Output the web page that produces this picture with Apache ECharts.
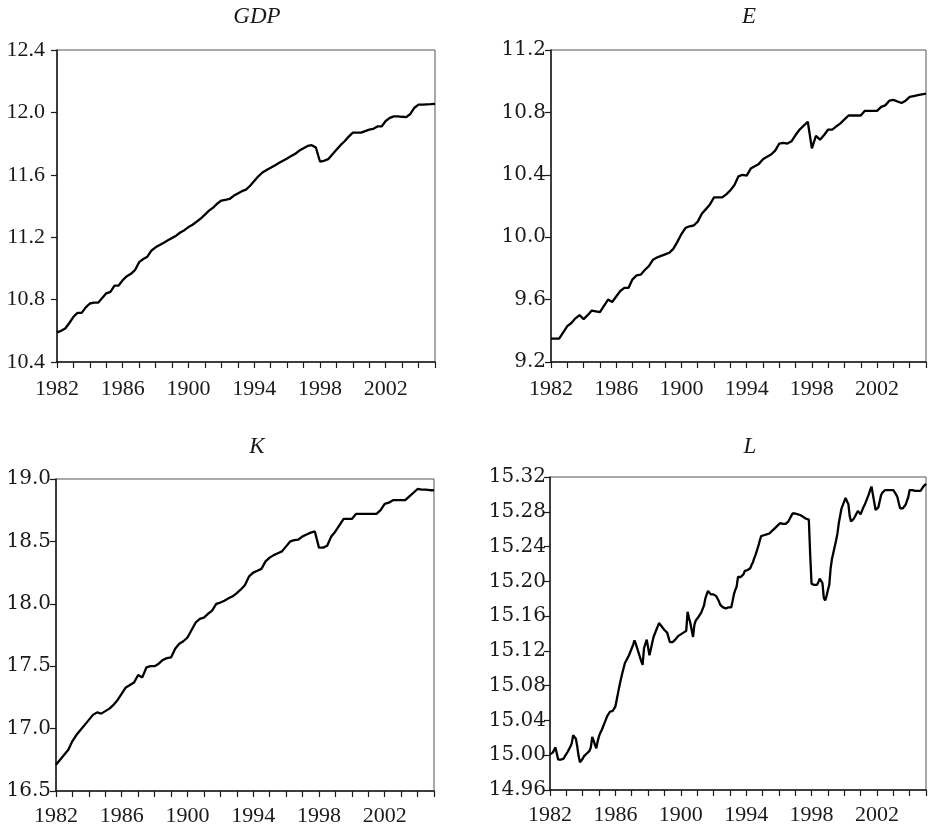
<!DOCTYPE html>
<html>
<head>
<meta charset="utf-8">
<script src="https://cdn.jsdelivr.net/npm/echarts@6/dist/echarts.min.js"></script>
<style>
html,body{margin:0;padding:0;background:#fff;}
#chart{width:929px;height:832px;}
</style>
</head>
<body>
<div id="chart"></div>
<script>
// Panel titles
const panelTitles = ['GDP', 'E', 'K', 'L'];

// x-axis (years) and tick labels as printed in the source
const xStart = 1982;
const xEnd = 2005;
const xLabelYears = [1982, 1986, 1990, 1994, 1998, 2002];
const xLabelTexts = ['1982', '1986', '1900', '1994', '1998', '2002'];

// y-axis ranges
const gdpAxis = [10.4, 12.4, 0.4];
const eAxis = [9.2, 11.2, 0.4];
const kAxis = [16.5, 19.0, 0.5];
const lAxis = [14.96, 15.32, 0.04];

// Quarterly series, 1982Q1 .. 2005Q1
const gdp = [
  10.59, 10.60, 10.615, 10.65, 10.69, 10.715, 10.715, 10.75, 10.775, 10.78, 10.78, 10.81,
  10.84, 10.85, 10.89, 10.89, 10.925, 10.95, 10.965, 10.99, 11.04, 11.06, 11.075, 11.115,
  11.135, 11.15, 11.165, 11.18, 11.195, 11.21, 11.23, 11.245, 11.265, 11.28, 11.30, 11.32,
  11.345, 11.37, 11.39, 11.415, 11.435, 11.44, 11.445, 11.465, 11.48, 11.495, 11.505, 11.53,
  11.56, 11.59, 11.615, 11.63, 11.645, 11.66, 11.675, 11.69, 11.705, 11.72, 11.735, 11.755,
  11.77, 11.785, 11.79, 11.775, 11.685, 11.69, 11.70, 11.73, 11.76, 11.79, 11.815, 11.845,
  11.87, 11.87, 11.87, 11.88, 11.89, 11.895, 11.91, 11.91, 11.945, 11.965, 11.975, 11.975,
  11.972, 11.97, 11.99, 12.03, 12.05, 12.05, 12.052, 12.053, 12.055
];
const e = [
  9.35, 9.35, 9.35, 9.39, 9.43, 9.45, 9.48, 9.50, 9.475, 9.50, 9.53, 9.525,
  9.52, 9.56, 9.60, 9.585, 9.62, 9.655, 9.675, 9.675, 9.73, 9.755, 9.76, 9.79,
  9.815, 9.855, 9.87, 9.88, 9.89, 9.90, 9.925, 9.97, 10.02, 10.06, 10.07, 10.075,
  10.10, 10.15, 10.18, 10.21, 10.255, 10.255, 10.255, 10.275, 10.30, 10.335, 10.39, 10.40,
  10.395, 10.44, 10.455, 10.47, 10.50, 10.515, 10.53, 10.555, 10.60, 10.605, 10.60, 10.615,
  10.655, 10.69, 10.715, 10.74, 10.57, 10.65, 10.625, 10.655, 10.69, 10.69, 10.71, 10.73,
  10.755, 10.78, 10.78, 10.78, 10.78, 10.81, 10.81, 10.81, 10.81, 10.835, 10.845, 10.875,
  10.88, 10.87, 10.86, 10.875, 10.90, 10.905, 10.91, 10.915, 10.92
];
const k = [
  16.71, 16.75, 16.79, 16.83, 16.90, 16.95, 16.99, 17.03, 17.07, 17.11, 17.13, 17.12,
  17.14, 17.16, 17.19, 17.23, 17.28, 17.33, 17.35, 17.37, 17.43, 17.41, 17.49, 17.50,
  17.50, 17.52, 17.55, 17.565, 17.57, 17.64, 17.68, 17.70, 17.73, 17.79, 17.85, 17.88,
  17.89, 17.92, 17.945, 18.00, 18.01, 18.025, 18.045, 18.06, 18.085, 18.115, 18.15, 18.22,
  18.25, 18.265, 18.28, 18.34, 18.37, 18.39, 18.405, 18.42, 18.46, 18.50, 18.51, 18.515,
  18.54, 18.555, 18.57, 18.58, 18.45, 18.45, 18.465, 18.54, 18.58, 18.63, 18.68, 18.68,
  18.68, 18.72, 18.72, 18.72, 18.72, 18.72, 18.72, 18.75, 18.80, 18.81, 18.83, 18.83,
  18.83, 18.83, 18.86, 18.89, 18.92, 18.915, 18.915, 18.91, 18.91
];
// Monthly series, 1982-01 .. 2005-01
const l = [
  15.001, 15.002, 15.003, 15.006, 15.009, 15.002, 14.995, 14.995, 14.995, 14.995, 14.996, 14.999,
  15.001, 15.004, 15.007, 15.010, 15.014, 15.023, 15.021, 15.019, 15.010, 14.999, 14.992, 14.992,
  14.996, 14.999, 15.001, 15.002, 15.003, 15.005, 15.009, 15.021, 15.017, 15.012, 15.008, 15.016,
  15.022, 15.026, 15.029, 15.033, 15.037, 15.041, 15.045, 15.047, 15.050, 15.051, 15.051, 15.052,
  15.056, 15.064, 15.072, 15.080, 15.087, 15.094, 15.100, 15.106, 15.109, 15.112, 15.115, 15.119,
  15.123, 15.127, 15.132, 15.128, 15.123, 15.118, 15.113, 15.108, 15.104, 15.123, 15.124, 15.133,
  15.124, 15.115, 15.122, 15.129, 15.136, 15.140, 15.144, 15.148, 15.152, 15.150, 15.148, 15.146,
  15.144, 15.143, 15.141, 15.140, 15.130, 15.129, 15.130, 15.131, 15.133, 15.135, 15.137, 15.138,
  15.139, 15.140, 15.141, 15.142, 15.143, 15.165, 15.158, 15.152, 15.152, 15.136, 15.150, 15.155,
  15.157, 15.159, 15.161, 15.164, 15.166, 15.172, 15.180, 15.185, 15.189, 15.191, 15.185, 15.183,
  15.185, 15.186, 15.183, 15.180, 15.177, 15.173, 15.171, 15.170, 15.169, 15.169, 15.169, 15.170,
  15.170, 15.170, 15.177, 15.185, 15.190, 15.194, 15.205, 15.205, 15.205, 15.205, 15.208, 15.212,
  15.213, 15.213, 15.214, 15.215, 15.219, 15.222, 15.227, 15.231, 15.236, 15.241, 15.247, 15.252,
  15.253, 15.253, 15.253, 15.254, 15.255, 15.255, 15.256, 15.258, 15.259, 15.261, 15.262, 15.264,
  15.266, 15.267, 15.267, 15.266, 15.266, 15.266, 15.266, 15.269, 15.272, 15.275, 15.278, 15.278,
  15.278, 15.277, 15.277, 15.276, 15.276, 15.275, 15.274, 15.273, 15.272, 15.272, 15.271, 15.230,
  15.197, 15.196, 15.196, 15.196, 15.196, 15.199, 15.203, 15.205, 15.198, 15.181, 15.178, 15.183,
  15.190, 15.196, 15.215, 15.226, 15.233, 15.240, 15.247, 15.255, 15.267, 15.269, 15.284, 15.288,
  15.292, 15.296, 15.292, 15.289, 15.275, 15.269, 15.270, 15.272, 15.274, 15.278, 15.281, 15.279,
  15.277, 15.281, 15.285, 15.288, 15.292, 15.296, 15.300, 15.305, 15.309, 15.300, 15.291, 15.282,
  15.284, 15.285, 15.287, 15.299, 15.302, 15.304, 15.305, 15.305, 15.305, 15.305, 15.305, 15.305,
  15.305, 15.303, 15.300, 15.297, 15.290, 15.284, 15.282, 15.284, 15.286, 15.288, 15.290, 15.297,
  15.305, 15.305, 15.305, 15.305, 15.304, 15.304, 15.304, 15.304, 15.304, 15.306, 15.309, 15.311,
  15.312
];

const chart = echarts.init(document.getElementById('chart'), null, {renderer: 'canvas'});

const serif = 'Liberation Serif';
const wideSerif = 'DejaVu Serif';
const ink = '#1a1a1a';

const grids = [
  {left: 57, top: 50, width: 378, height: 312},
  {left: 551, top: 50, width: 377, height: 312},
  {left: 56, top: 479, width: 378, height: 312},
  {left: 550, top: 477, width: 377, height: 313}
].map(g => Object.assign({show: true, borderColor: '#555', borderWidth: 1, backgroundColor: 'transparent'}, g));

const titlePos = [[257, 17], [749, 17], [257, 447], [750, 447]];
const xLabelMargins = [16, 16, 14, 14];

function xAxisFor(gi) {
  return {
    type: 'value', gridIndex: gi, min: xStart, max: xEnd, interval: 1,
    axisLine: {show: true, lineStyle: {color: ink, width: 1.5}},
    axisTick: {show: true, inside: false, length: 6, lineStyle: {color: ink, width: 1.2}},
    axisLabel: {
      margin: xLabelMargins[gi], fontFamily: serif, fontSize: 22, color: ink,
      formatter: function (v) {
        const idx = xLabelYears.indexOf(Math.round(v));
        return (idx >= 0 && Math.abs(v - Math.round(v)) < 1e-6) ? xLabelTexts[idx] : '';
      }
    },
    splitLine: {show: false}
  };
}
function yAxisFor(gi, rng, dec, font, size, margin) {
  return {
    type: 'value', gridIndex: gi, min: rng[0], max: rng[1], interval: rng[2],
    axisLine: {show: true, lineStyle: {color: ink, width: 1.5}},
    axisTick: {show: true, inside: false, length: 6, lineStyle: {color: ink, width: 1.2}},
    axisLabel: {
      margin: margin, fontFamily: font, fontSize: size, color: ink,
      formatter: function (v) { return v.toFixed(dec); }
    },
    splitLine: {show: false}
  };
}

const quarterly = arr => arr.map((v, i) => [xStart + i / 4, v]);
const monthly = arr => arr.map((v, i) => [xStart + i / 12, v]);

function lineSeries(gi, data) {
  return {
    type: 'line', xAxisIndex: gi, yAxisIndex: gi, data: data,
    showSymbol: false, symbol: 'none', smooth: false, animation: false,
    lineStyle: {color: '#000', width: 2.3}, itemStyle: {color: '#000'}
  };
}

const option = {
  backgroundColor: '#fff',
  animation: false,
  title: panelTitles.map((t, i) => ({
    text: t, left: titlePos[i][0], top: titlePos[i][1], padding: 0,
    textAlign: 'center', textVerticalAlign: 'middle',
    textStyle: {fontFamily: serif, fontStyle: 'italic', fontWeight: 'normal', fontSize: 23, color: ink}
  })),
  grid: grids,
  xAxis: [xAxisFor(0), xAxisFor(1), xAxisFor(2), xAxisFor(3)],
  yAxis: [
    yAxisFor(0, gdpAxis, 1, serif, 22, 12),
    yAxisFor(1, eAxis, 1, wideSerif, 20, 5),
    yAxisFor(2, kAxis, 1, wideSerif, 20, 5),
    yAxisFor(3, lAxis, 2, wideSerif, 20, 4)
  ],
  series: [
    lineSeries(0, quarterly(gdp)),
    lineSeries(1, quarterly(e)),
    lineSeries(2, quarterly(k)),
    lineSeries(3, monthly(l))
  ]
};
chart.setOption(option);
</script>
</body>
</html>
